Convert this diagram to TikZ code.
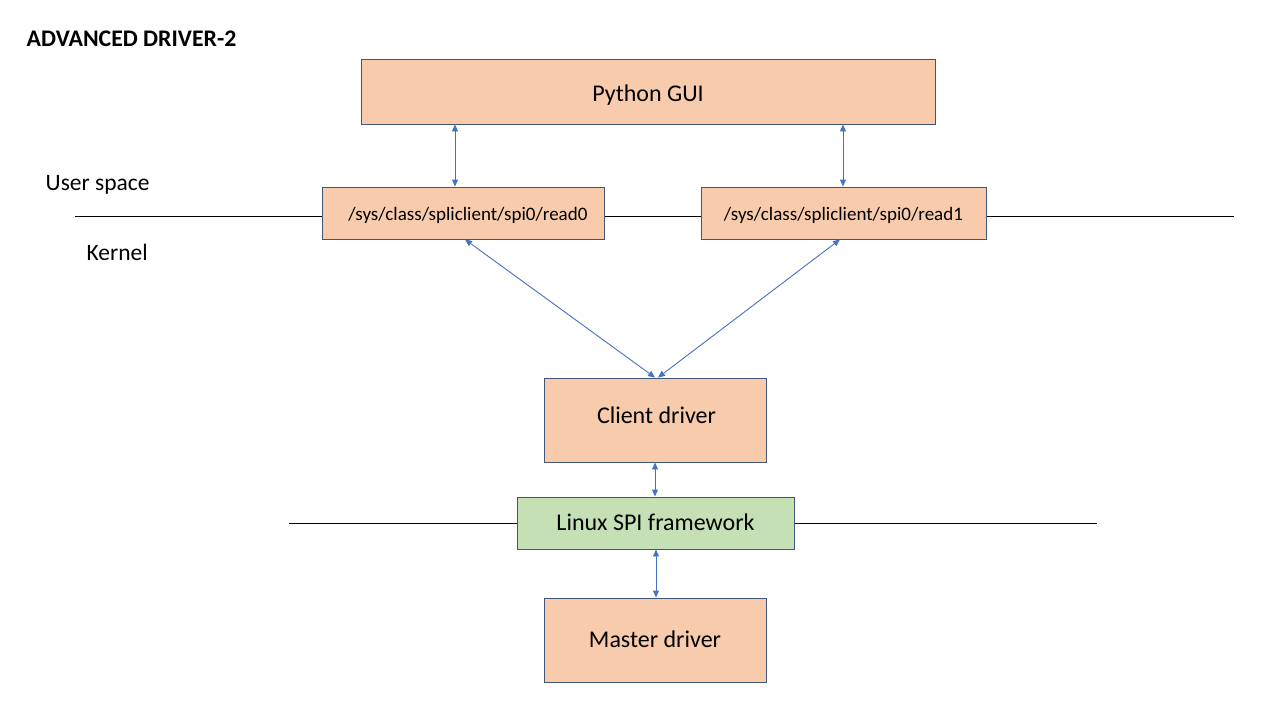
\documentclass[tikz,border=0pt]{standalone}
\usepackage{fontspec}
\setmainfont{Carlito}
\usetikzlibrary{arrows.meta}
\definecolor{boxfill}{HTML}{F8CBAD}
\definecolor{greenfill}{HTML}{C5E0B4}
\definecolor{boxline}{HTML}{41577A}
\definecolor{arrowblue}{HTML}{4472C4}
\tikzset{
  box/.style={draw=boxline, line width=0.9pt, fill=boxfill, inner sep=0pt, text depth=0pt},
  gbox/.style={box, fill=greenfill},
  link/.style={draw=arrowblue, line width=0.9pt, {Triangle[width=6pt,length=7pt]}-{Triangle[width=6pt,length=7pt]}},
  sep/.style={draw=black, line width=0.9pt},
  lbl/.style={inner sep=0pt, anchor=base west, font=\fontsize{23.5}{28}\selectfont},
}
\begin{document}
\begin{tikzpicture}[x=1pt,y=-1pt]
\useasboundingbox (0,0) rectangle (1280,720);
% separator lines
\coordinate (u0) at (75,216);
\coordinate (u1) at (1234,216);
\coordinate (k0) at (289,523);
\coordinate (k1) at (1097,523);
\draw[sep] (u0) -- (u1);
\draw[sep] (k0) -- (k1);
% boxes
\node[box, minimum width=574pt, minimum height=65pt, text height=19pt, font=\fontsize{24}{28}\selectfont] (gui) at (648,91.5) {Python GUI};
\node[box, minimum width=282pt, minimum height=52pt, text height=14pt, font=\fontsize{19}{22}\selectfont] (r0) at (463,213) {\hspace*{10pt}/sys/class/spliclient/spi0/read0};
\node[box, minimum width=285pt, minimum height=52pt, text height=14pt, font=\fontsize{19}{22}\selectfont] (r1) at (843.5,213) {/sys/class/spliclient/spi0/read1};
\node[box, minimum width=222pt, minimum height=84pt, text height=6.6pt, font=\fontsize{24}{28}\selectfont] (cd) at (655,420) {\hspace*{3pt}Client driver};
\node[gbox, minimum width=277pt, minimum height=52pt, text height=14pt, font=\fontsize{24}{28}\selectfont] (spi) at (655.5,523) {Linux SPI framework};
\node[box, minimum width=222pt, minimum height=84pt, text height=14.6pt, font=\fontsize{24}{28}\selectfont] (md) at (655,640) {Master driver};
% labels
\node[lbl, font=\bfseries\fontsize{23.8}{28}\selectfont] (title) at (26.5,46.7) {ADVANCED DRIVER-2};
\node[lbl] (us) at (45.5,190) {User space};
\node[lbl] (kn) at (86.5,260) {Kernel};
% arrows
\draw[link] (gui.south -| 455,0) -- (r0.north -| 455,0);
\draw[link] (gui.south -| 843,0) -- (r1.north -| 843,0);
\draw[link] (r0.south -| 465,0) -- (cd.north -| 655,0);
\draw[link] (r1.south -| 840,0) -- (cd.north -| 658,0);
\draw[link] (cd.south) -- (spi.north -| cd.south);
\draw[link] (spi.south -| 656,0) -- (md.north -| 656,0);
\end{tikzpicture}
\end{document}
